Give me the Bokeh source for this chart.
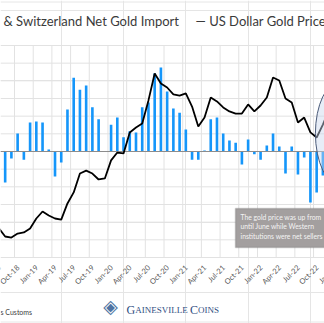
import math
from bokeh.plotting import figure
from bokeh.models import Range1d, Span, Label, BoxAnnotation
from bokeh.embed import file_html
from bokeh.resources import INLINE
from bokeh.core.properties import value

# ---------------- data ----------------
months = ["Jul-18", "Aug-18", "Sep-18", "Oct-18", "Nov-18", "Dec-18",
          "Jan-19", "Feb-19", "Mar-19", "Apr-19", "May-19", "Jun-19",
          "Jul-19", "Aug-19", "Sep-19", "Oct-19", "Nov-19", "Dec-19",
          "Jan-20", "Feb-20", "Mar-20", "Apr-20", "May-20", "Jun-20",
          "Jul-20", "Aug-20", "Sep-20", "Oct-20", "Nov-20", "Dec-20",
          "Jan-21", "Feb-21", "Mar-21", "Apr-21", "May-21", "Jun-21",
          "Jul-21", "Aug-21", "Sep-21", "Oct-21", "Nov-21", "Dec-21",
          "Jan-22", "Feb-22", "Mar-22", "Apr-22", "May-22", "Jun-22",
          "Jul-22", "Aug-22", "Sep-22", "Oct-22", "Nov-22", "Dec-22",
          "Jan-23"]

# Net gold import (tonnes), Aug-18 .. Nov-22
import_months = months[1:53]
net_import = [-88, -20, 51, -23, 82, 85, 82, 6, -71, -31,
              119, 209, 175, 187, 125, 91, 0, 76, 96, 40,
              57, 54, 125, 139, 221, 238, 170, 122, 110, 62,
              -23, -23, 3, 91, 96, 51, 31, 25, -37, 34,
              -8, -23, 17, 51, 14, -62, 14, -65, -17, -144,
              -116, -68]

# US dollar gold price, Jul-18 .. Dec-22
price_months = months[0:54]
gold_price = [1237, 1199, 1194, 1213, 1218, 1237, 1284, 1317, 1298, 1284,
              1279, 1355, 1407, 1496, 1510, 1496, 1468, 1473, 1558, 1595,
              1591, 1690, 1713, 1732, 1841, 1968, 1921, 1902, 1869, 1864,
              1874, 1812, 1718, 1760, 1855, 1836, 1808, 1789, 1779, 1779,
              1822, 1789, 1817, 1855, 1949, 1935, 1850, 1831, 1737, 1760,
              1690, 1666, 1727, 1798]

tick_months = [m for m in months if m[:3] in ("Oct", "Jan", "Apr", "Jul")]
y_gridlines = [-300, -250, -200, -150, -100, -50, 0, 50, 100, 150, 200, 250, 300]

legend_import = "& Switzerland Net Gold Import"
legend_price = "\u2014 US Dollar Gold Price"
note_lines = ["The gold price was up from", "until June while Western",
              "institutions were net sellers"]
source_text = "s Customs"

# ---------------- layout constants ----------------
W, H = 324, 323
PLOT_TOP, PLOT_BOTTOM = 45, 257          # plot area in canvas pixels
ZERO_PX = 151
PX_PER_T = (PLOT_BOTTOM - PLOT_TOP) / 600.0
PX_PER_USD = (PLOT_BOTTOM - PLOT_TOP) / 1000.0

pos = {m: i for i, m in enumerate(months)}

p = figure(width=W, height=H, output_backend="svg", toolbar_location=None,
           x_range=Range1d(0.25, 52.26),
           y_range=Range1d(-(H - ZERO_PX) / PX_PER_T, ZERO_PX / PX_PER_T),
           x_axis_location=None, y_axis_location=None,
           min_border=0, min_border_left=0, min_border_right=0,
           min_border_top=0, min_border_bottom=0)
p.extra_y_ranges = {"gold": Range1d(1100 - (H - PLOT_BOTTOM) / PX_PER_USD,
                                    1100 + PLOT_BOTTOM / PX_PER_USD)}
p.outline_line_color = None
p.background_fill_color = "white"
p.border_fill_color = "white"

x0, x1 = p.x_range.start, p.x_range.end
grid_color = "#E2E2E2"

# grid
p.segment(x0=[x0] * len(y_gridlines), x1=[x1] * len(y_gridlines),
          y0=y_gridlines, y1=y_gridlines, line_color=grid_color, line_width=1)
vx = [pos[m] - 0.5 for m in tick_months]
p.segment(x0=vx, x1=vx, y0=[y_gridlines[0]] * len(vx), y1=[y_gridlines[-1]] * len(vx),
          line_color=grid_color, line_width=1)

# bars, zero line, price line
p.vbar(x=[pos[m] for m in import_months], top=net_import, bottom=0, width=0.42,
       fill_color="#1596FA", line_color=None)
p.segment(x0=[x0], x1=[x1], y0=[0], y1=[0], line_color="#8C8C8C", line_width=1)
p.line(x=[pos[m] for m in price_months], y=gold_price, y_range_name="gold",
       line_color="black", line_width=1.8)

# category labels
label_y = y_gridlines[0] - 9 / PX_PER_T
p.text(x=[pos[m] + 0.1 for m in tick_months], y=[label_y] * len(tick_months),
       text=tick_months, angle=math.pi / 4, text_align="right",
       text_baseline="middle", text_font=value("Lato"),
       text_font_size=value("7.5px"), text_color="#595959")

# highlight ellipse
p.ellipse(x=[54.8], y=[51], width=8.0, height=294, fill_color="#C9D8EE",
          fill_alpha=0.45, line_color="#4A5A78", line_width=1)


def sy(py):
    return H - py


# note box
p.add_layout(BoxAnnotation(left=235, right=340, top=sy(208), bottom=sy(247),
                           left_units="screen", right_units="screen",
                           top_units="screen", bottom_units="screen",
                           fill_color="#A39F9F", fill_alpha=1,
                           line_color="#737373", line_width=1.5))
for k, t in enumerate(note_lines):
    p.add_layout(Label(x=240, y=sy(216 + k * 9.8), x_units="screen", y_units="screen",
                       text=t, text_font="Lato", text_font_size="6.8px",
                       text_color="#F4F4F4", text_baseline="middle"))

# frame lines top / bottom
p.add_layout(Span(location=sy(1.5), location_units="screen", dimension="width",
                  line_color="#E6E6E6", line_width=1))
p.add_layout(Span(location=sy(321.5), location_units="screen", dimension="width",
                  line_color="#E6E6E6", line_width=1))

# legend
p.add_layout(Label(x=3, y=sy(20), x_units="screen", y_units="screen",
                   text=legend_import, text_font="Lato", text_font_size="13px",
                   text_color="#3A3A3A", text_baseline="middle"))
p.add_layout(Label(x=195, y=sy(20), x_units="screen", y_units="screen",
                   text=legend_price, text_font="Lato", text_font_size="13px",
                   text_color="#3A3A3A", text_baseline="middle"))

# source & logo
p.add_layout(Label(x=0, y=sy(311), x_units="screen", y_units="screen",
                   text=source_text, text_font="Lato", text_font_size="7px",
                   text_color="#404040", text_baseline="middle"))
p.add_layout(Label(x=110, y=sy(305), x_units="screen", y_units="screen",
                   text="\u25C8", text_font="DejaVu Sans", text_font_size="19px",
                   text_color="#4F74A3", text_baseline="middle", text_align="center"))
logo_parts = [("G", 126, "12px"), ("AINESVILLE", 134.7, "9px"),
              ("C", 189.6, "12px"), ("OINS", 197.6, "9px")]
for t, lx, fs in logo_parts:
    p.add_layout(Label(x=lx, y=sy(309), x_units="screen", y_units="screen",
                       text=t, text_font="Liberation Serif", text_font_size=fs,
                       text_color="#2F4E82", text_baseline="alphabetic"))

open("out.html", "w").write(file_html(p, INLINE))
